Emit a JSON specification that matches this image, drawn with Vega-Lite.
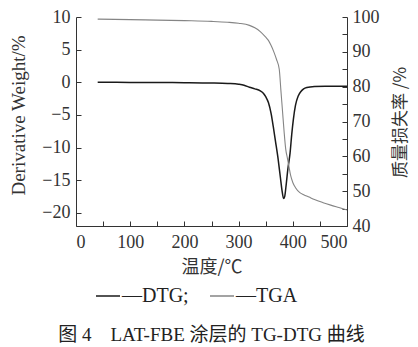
{
  "$schema": "https://vega.github.io/schema/vega-lite/v6.json",
  "width": 271,
  "height": 209,
  "autosize": {"type": "none"},
  "padding": {"left": 76, "top": 17, "right": 71, "bottom": 121},
  "background": "white",
  "config": {
    "view": {"stroke": null},
    "font": "Liberation Serif",
    "axis": {
      "grid": false,
      "domainColor": "#333",
      "tickColor": "#333",
      "labelColor": "#333",
      "titleColor": "#333",
      "labelFont": "Liberation Serif",
      "titleFont": "Liberation Serif, Noto Sans CJK SC",
      "labelFontSize": 18,
      "titleFontSize": 18,
      "titleFontWeight": "normal",
      "tickSize": -5,
      "labelPadding": 11
    }
  },
  "title": {
    "text": "图 4　LAT-FBE 涂层的 TG-DTG 曲线",
    "orient": "bottom",
    "anchor": "middle",
    "frame": "group",
    "font": "Liberation Serif, Noto Sans CJK SC",
    "fontSize": 19,
    "fontWeight": "normal",
    "color": "#222",
    "offset": 20
  },
  "data": {
    "values": [
      {"t": 40, "v": 0, "s": "DTG"},
      {"t": 60, "v": 0, "s": "DTG"},
      {"t": 100, "v": -0.02, "s": "DTG"},
      {"t": 150, "v": -0.03, "s": "DTG"},
      {"t": 200, "v": -0.05, "s": "DTG"},
      {"t": 250, "v": -0.1, "s": "DTG"},
      {"t": 280, "v": -0.18, "s": "DTG"},
      {"t": 300, "v": -0.3, "s": "DTG"},
      {"t": 310, "v": -0.45, "s": "DTG"},
      {"t": 320, "v": -0.75, "s": "DTG"},
      {"t": 330, "v": -1.0, "s": "DTG"},
      {"t": 340, "v": -1.3, "s": "DTG"},
      {"t": 346, "v": -1.7, "s": "DTG"},
      {"t": 350, "v": -2.2, "s": "DTG"},
      {"t": 355, "v": -3.1, "s": "DTG"},
      {"t": 360, "v": -4.8, "s": "DTG"},
      {"t": 364, "v": -6.8, "s": "DTG"},
      {"t": 368, "v": -9.0, "s": "DTG"},
      {"t": 373, "v": -11.8, "s": "DTG"},
      {"t": 377, "v": -14.5, "s": "DTG"},
      {"t": 380, "v": -16.5, "s": "DTG"},
      {"t": 383, "v": -17.8, "s": "DTG"},
      {"t": 385, "v": -17.5, "s": "DTG"},
      {"t": 388, "v": -15.5, "s": "DTG"},
      {"t": 391, "v": -13.2, "s": "DTG"},
      {"t": 395, "v": -10.8, "s": "DTG"},
      {"t": 398, "v": -8.0, "s": "DTG"},
      {"t": 401, "v": -5.7, "s": "DTG"},
      {"t": 405, "v": -3.5, "s": "DTG"},
      {"t": 410, "v": -2.1, "s": "DTG"},
      {"t": 415, "v": -1.4, "s": "DTG"},
      {"t": 420, "v": -1.0, "s": "DTG"},
      {"t": 426, "v": -0.8, "s": "DTG"},
      {"t": 440, "v": -0.65, "s": "DTG"},
      {"t": 460, "v": -0.6, "s": "DTG"},
      {"t": 480, "v": -0.6, "s": "DTG"},
      {"t": 500, "v": -0.6, "s": "DTG"},
      {"t": 40, "v": 99.4, "s": "TGA"},
      {"t": 100, "v": 99.25, "s": "TGA"},
      {"t": 150, "v": 99.1, "s": "TGA"},
      {"t": 200, "v": 98.95, "s": "TGA"},
      {"t": 250, "v": 98.75, "s": "TGA"},
      {"t": 280, "v": 98.5, "s": "TGA"},
      {"t": 300, "v": 98.2, "s": "TGA"},
      {"t": 320, "v": 97.6, "s": "TGA"},
      {"t": 330, "v": 96.9, "s": "TGA"},
      {"t": 340, "v": 95.8, "s": "TGA"},
      {"t": 350, "v": 94.2, "s": "TGA"},
      {"t": 355, "v": 93.3, "s": "TGA"},
      {"t": 360, "v": 91.8, "s": "TGA"},
      {"t": 365, "v": 90, "s": "TGA"},
      {"t": 370, "v": 87.8, "s": "TGA"},
      {"t": 375, "v": 85, "s": "TGA"},
      {"t": 378, "v": 79, "s": "TGA"},
      {"t": 381, "v": 73, "s": "TGA"},
      {"t": 384, "v": 67, "s": "TGA"},
      {"t": 387, "v": 62, "s": "TGA"},
      {"t": 390, "v": 59.5, "s": "TGA"},
      {"t": 393, "v": 57, "s": "TGA"},
      {"t": 396, "v": 54.5, "s": "TGA"},
      {"t": 400, "v": 52.5, "s": "TGA"},
      {"t": 405, "v": 51, "s": "TGA"},
      {"t": 413, "v": 49.6, "s": "TGA"},
      {"t": 420, "v": 49, "s": "TGA"},
      {"t": 430, "v": 48.3, "s": "TGA"},
      {"t": 440, "v": 47.6, "s": "TGA"},
      {"t": 456, "v": 46.7, "s": "TGA"},
      {"t": 470, "v": 46, "s": "TGA"},
      {"t": 485, "v": 45.3, "s": "TGA"},
      {"t": 500, "v": 44.6, "s": "TGA"}
    ]
  },
  "encoding": {
    "x": {
      "field": "t",
      "type": "quantitative",
      "scale": {"domain": [0, 500], "nice": false},
      "axis": {
        "values": [0, 50, 100, 150, 200, 250, 300, 350, 400, 450, 500],
        "labelExpr": "datum.value % 100 == 0 ? datum.label : ''",
        "labelPadding": 12,
        "title": "温度/℃",
        "titleFont": "Noto Sans CJK SC",
        "titlePadding": 7
      }
    },
    "color": {
      "field": "s",
      "type": "nominal",
      "scale": {"domain": ["DTG", "TGA"], "range": ["#1a1a1a", "#858585"]},
      "legend": {
        "title": null,
        "orient": "none",
        "direction": "horizontal",
        "legendX": 19,
        "legendY": 266,
        "symbolType": "stroke",
        "symbolSize": 576,
        "symbolStrokeWidth": 1.5,
        "labelFont": "Liberation Serif",
        "labelFontSize": 20,
        "labelColor": "#222",
        "labelOffset": 1,
        "columnPadding": 18,
        "labelExpr": "datum.label == 'DTG' ? '—DTG;' : '—TGA'"
      }
    }
  },
  "layer": [
    {
      "transform": [{"filter": "datum.s == 'DTG'"}],
      "mark": {"type": "line", "strokeWidth": 1.5, "interpolate": "monotone"},
      "encoding": {
        "y": {
          "field": "v",
          "type": "quantitative",
          "scale": {"domain": [-22, 10], "nice": false, "zero": false},
          "axis": {
            "orient": "left",
            "values": [-20, -15, -10, -5, 0, 5, 10],
            "title": "Derivative Weight/%",
            "titleFontSize": 19,
            "titleX": -58,
            "titleY": 98,
            "titleBaseline": "middle",
            "titleAlign": "center"
          }
        }
      }
    },
    {
      "transform": [{"filter": "datum.s == 'TGA'"}],
      "mark": {"type": "line", "strokeWidth": 1.1, "interpolate": "monotone"},
      "encoding": {
        "y": {
          "field": "v",
          "type": "quantitative",
          "scale": {"domain": [40, 100], "nice": false, "zero": false},
          "axis": {
            "orient": "right",
            "values": [40, 45, 50, 55, 60, 65, 70, 75, 80, 85, 90, 95, 100],
            "labelExpr": "datum.value % 10 == 0 ? datum.label : ''",
            "labelPadding": 10,
            "title": "质量损失率 /%",
            "titleFont": "Noto Sans CJK SC",
            "titleAngle": -90,
            "titleFontSize": 17,
            "titleX": 53,
            "titleY": 105,
            "titleBaseline": "middle",
            "titleAlign": "center"
          }
        }
      }
    }
  ],
  "resolve": {"scale": {"y": "independent"}}
}
